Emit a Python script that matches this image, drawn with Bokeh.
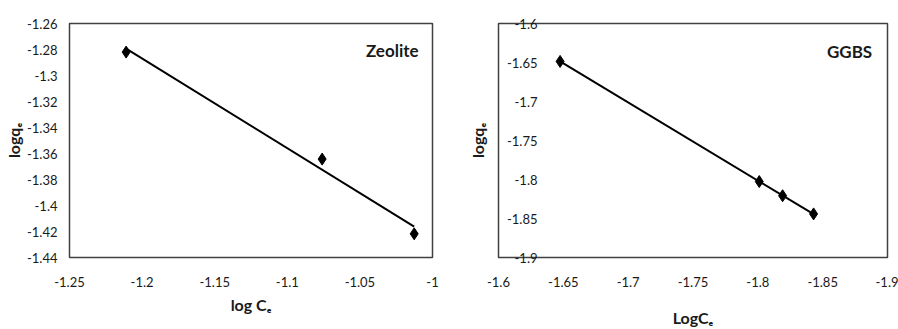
import numpy as np
from bokeh.plotting import figure
from bokeh.layouts import row
from bokeh.models import Range1d, FixedTicker, Label
from bokeh.embed import file_html
from bokeh.resources import INLINE

# ---- Data: Zeolite ----
zeo_logCe = [-1.211, -1.076, -1.0126]
zeo_logqe = [-1.282, -1.3643, -1.4218]
# ---- Data: GGBS ----
ggbs_logCe = [-1.6475, -1.8011, -1.8191, -1.8430]
ggbs_logqe = [-1.6486, -1.8026, -1.8208, -1.8441]

# ---- Ticks ----
zeo_x_ticks = [-1.25, -1.2, -1.15, -1.1, -1.05, -1.0]
zeo_x_labels = ["-1.25", "-1.2", "-1.15", "-1.1", "-1.05", "-1"]
zeo_y_ticks = [-1.44, -1.42, -1.40, -1.38, -1.36, -1.34, -1.32, -1.30, -1.28, -1.26]
zeo_y_labels = ["-1.44", "-1.42", "-1.4", "-1.38", "-1.36", "-1.34", "-1.32", "-1.3", "-1.28", "-1.26"]
ggbs_x_ticks = [-1.6, -1.65, -1.7, -1.75, -1.8, -1.85, -1.9]
ggbs_x_labels = ["-1.6", "-1.65", "-1.7", "-1.75", "-1.8", "-1.85", "-1.9"]
ggbs_y_ticks = [-1.9, -1.85, -1.8, -1.75, -1.7, -1.65, -1.6]
ggbs_y_labels = ["-1.9", "-1.85", "-1.8", "-1.75", "-1.7", "-1.65", "-1.6"]

FONT = "Lato"
TXT = "#1a1a1a"


def style(p, xt, xl, yt, yl):
    p.grid.visible = False
    p.outline_line_color = "#404040"
    p.outline_line_width = 1.5
    p.background_fill_color = "white"
    p.border_fill_color = "white"
    for ax in (p.xaxis[0], p.yaxis[0]):
        ax.axis_line_color = None
        ax.major_tick_line_color = None
        ax.minor_tick_line_color = None
        ax.major_tick_out = 0
        ax.major_tick_in = 0
        ax.major_label_text_font = FONT
        ax.major_label_text_font_size = "13px"
        ax.major_label_text_color = TXT
        ax.axis_label_text_font = FONT
        ax.axis_label_text_font_size = "16px"
        ax.axis_label_text_font_style = "bold"
        ax.axis_label_text_color = TXT
    p.xaxis[0].ticker = FixedTicker(ticks=xt)
    p.xaxis[0].major_label_overrides = {t: l for t, l in zip(xt, xl)}
    p.yaxis[0].ticker = FixedTicker(ticks=yt)
    p.yaxis[0].major_label_overrides = {t: l for t, l in zip(yt, yl)}
    p.xaxis[0].major_label_standoff = 19


def trend(x, y):
    k, b = np.polyfit(x, y, 1)
    xs = np.array([min(x), max(x)])
    return xs, k * xs + b


# ---- Left: Zeolite ----
p1 = figure(width=449, height=329, x_range=Range1d(-1.25, -1.0), y_range=Range1d(-1.44, -1.26),
            output_backend="svg", toolbar_location=None,
            min_border_left=69, min_border_right=17, min_border_top=23, min_border_bottom=68)
style(p1, zeo_x_ticks, zeo_x_labels, zeo_y_ticks, zeo_y_labels)
p1.xaxis[0].axis_label = "log C\u2091"
p1.xaxis[0].axis_label_standoff = 5
p1.yaxis[0].axis_label = "logq\u2091"
p1.yaxis[0].major_label_standoff = 12
p1.yaxis[0].axis_label_standoff = 1
tx, ty = trend(zeo_logCe, zeo_logqe)
p1.line(tx, ty, line_color="black", line_width=2)
p1.scatter(zeo_logCe, zeo_logqe, marker="diamond", size=12, fill_color="black", line_color="black")
p1.add_layout(Label(x=-1.0096, y=-1.2808, text="Zeolite", text_align="right", text_baseline="middle",
                    text_font=FONT, text_font_size="17px", text_font_style="bold", text_color=TXT))

# ---- Right: GGBS ----
p2 = figure(width=449, height=329, x_range=Range1d(-1.6, -1.9), y_range=Range1d(-1.9, -1.6),
            output_backend="svg", toolbar_location=None,
            min_border_left=49, min_border_right=11, min_border_top=20, min_border_bottom=68)
style(p2, ggbs_x_ticks, ggbs_x_labels, ggbs_y_ticks, ggbs_y_labels)
p2.xaxis[0].axis_label = "LogC\u2091"
p2.xaxis[0].axis_label_standoff = 18
p2.yaxis[0].axis_label = "logq\u2091"
p2.yaxis[0].major_label_standoff = -39
p2.yaxis[0].major_label_text_align = "left"
p2.yaxis[0].axis_label_standoff = 17
gx, gy = trend(ggbs_logCe, ggbs_logqe)
p2.line(gx, gy, line_color="black", line_width=2)
p2.scatter(ggbs_logCe, ggbs_logqe, marker="diamond", size=12, fill_color="black", line_color="black")
p2.add_layout(Label(x=-1.8882, y=-1.6361, text="GGBS", text_align="right", text_baseline="middle",
                    text_font=FONT, text_font_size="17px", text_font_style="bold", text_color=TXT))

layout = row(p1, p2)
open("out.html", "w").write(file_html(layout, INLINE))
